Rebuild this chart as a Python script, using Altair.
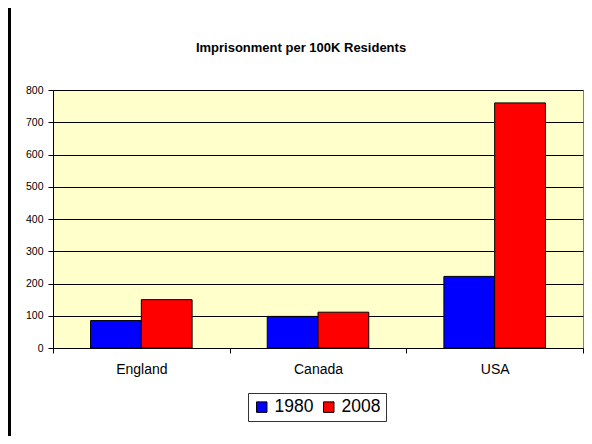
import altair as alt
import pandas as pd

countries = ["England", "Canada", "USA"]
years = ["1980", "2008"]
v1980 = [85, 98, 222]
v2008 = [150, 111, 760]
y_ticks = [0, 100, 200, 300, 400, 500, 600, 700, 800]
colors = ["#0000FF", "#FF0000"]
title_text = "Imprisonment per 100K Residents"

rows = []
for c, a, b in zip(countries, v1980, v2008):
    rows.append({"country": c, "year": "1980", "value": a})
    rows.append({"country": c, "year": "2008", "value": b})
df = pd.DataFrame(rows)

FONT = "Liberation Sans"

bars = alt.Chart(df).mark_bar(stroke="black", strokeWidth=1).encode(
    x=alt.X("country:N", sort=countries,
            scale=alt.Scale(paddingInner=0, paddingOuter=0),
            axis=alt.Axis(title=None, labelAngle=0, tickBand="extent", tickSize=5,
                          labelFontSize=14, labelPadding=9, labelColor="black",
                          domainColor="black", tickColor="black", grid=False,
                          labelFont=FONT)),
    xOffset=alt.XOffset("year:N", sort=years,
                        scale=alt.Scale(paddingInner=0, paddingOuter=0.74)),
    y=alt.Y("value:Q", scale=alt.Scale(domain=[0, 800], nice=False),
            axis=alt.Axis(title=None, values=y_ticks, tickSize=5, labelPadding=5,
                          labelFontSize=10.5, labelColor="black", labelFont=FONT,
                          domainColor="black", tickColor="black",
                          grid=True, gridColor="black", gridOpacity=1, gridWidth=1)),
    color=alt.Color("year:N", sort=years,
                    scale=alt.Scale(domain=years, range=colors),
                    legend=alt.Legend(title=None, orient="none", legendX=195, legendY=303,
                                      direction="horizontal", symbolType="square",
                                      symbolSize=110, symbolStrokeColor="black",
                                      symbolStrokeWidth=1, labelFontSize=17.5,
                                      labelFont=FONT, labelColor="black",
                                      strokeColor="#333333", padding=5,
                                      columnPadding=6, labelOffset=4,
                                      symbolOpacity=1)),
)

one = pd.DataFrame({"a": [0]})
frame_left = alt.Chart(one).mark_rule(color="black", strokeWidth=3).encode(
    x=alt.value(-43.5), y=alt.value(-82), y2=alt.value(346)
)
title = alt.Chart(one).mark_text(fontSize=13, font=FONT, fontWeight="bold",
                                 color="black", align="center", baseline="middle").encode(
    x=alt.value(248), y=alt.value(-42), text=alt.value(title_text)
)

chart = alt.layer(bars, frame_left, title).properties(
    width=530, height=258,
    autosize=alt.AutoSizeParams(type="none"),
    padding={"left": 45, "top": 82, "right": 1, "bottom": 88},
).configure_view(
    fill="#FFFFCC", stroke="#808080", strokeWidth=1
)

chart.save("out.html", embed_options={"renderer": "svg", "actions": False})
